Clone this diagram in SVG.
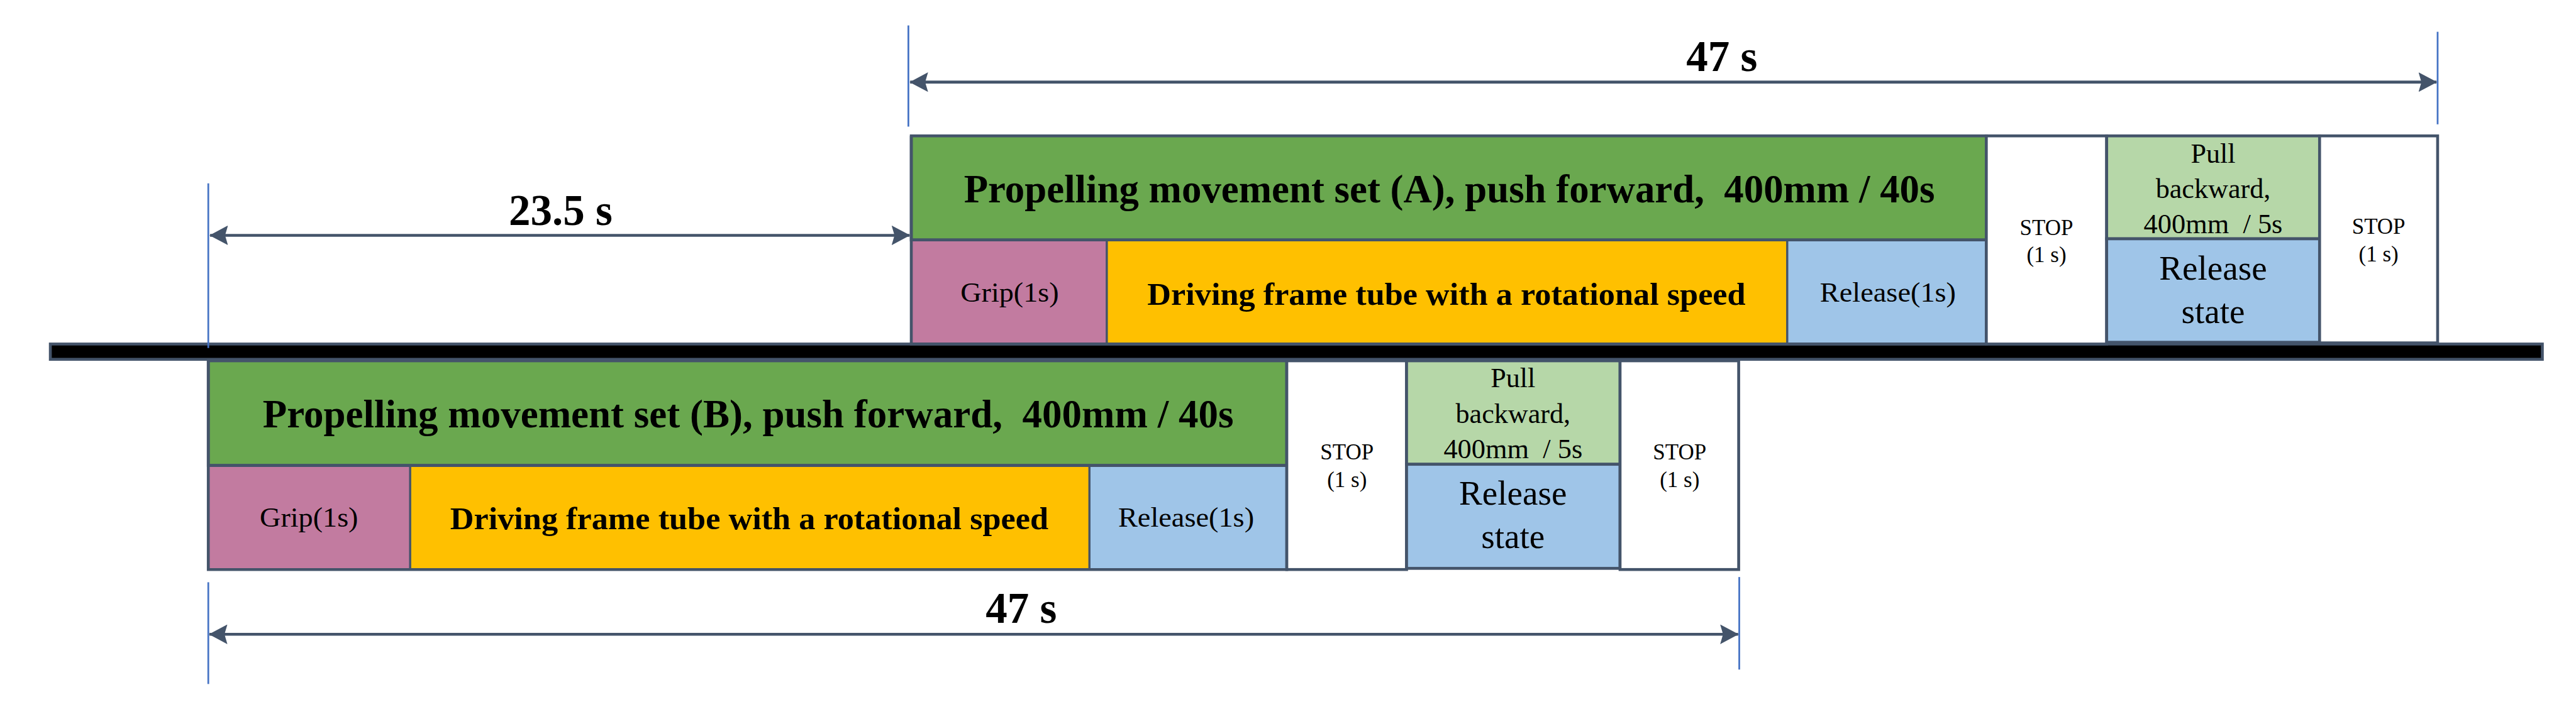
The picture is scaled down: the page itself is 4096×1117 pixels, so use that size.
<svg xmlns="http://www.w3.org/2000/svg" width="4096" height="1117" viewBox="0 0 4096 1117">
<defs>
<style>
.box{stroke:#44546A;stroke-width:5}
.in{stroke:#44546A;stroke-width:3.5}
.green{fill:#6AA84F}.pink{fill:#C27BA0}.yellow{fill:#FFC000}.blue{fill:#9FC5E8}.lgreen{fill:#B6D7A8}.white{fill:#FFFFFF}
text{font-family:"Liberation Serif","Times New Roman",serif;fill:#000;text-anchor:middle;white-space:pre}
.t{font-size:69px;font-weight:bold}
.d{font-size:56px;font-weight:bold}
.s{font-size:47px}
.stop{font-size:38px}
.pull{font-size:48px}
.rel{font-size:60px}
.dim{font-size:75px;font-weight:bold}
.vl{stroke:#4472C4;stroke-width:3}
.ar{stroke:#44546A;stroke-width:5;fill:none;marker-start:url(#ah);marker-end:url(#ah)}
</style>
<marker id="ah" markerUnits="userSpaceOnUse" markerWidth="32" markerHeight="34" refX="31" refY="17" orient="auto-start-reverse">
<path d="M0,0 L32,17 L0,34 L5,17 z" fill="#44546A"/>
</marker>
</defs>
<rect width="4096" height="1117" fill="#FFFFFF"/>
<g transform="scale(0.92)">
<g id="baseline-bar"><rect x="87" y="595" width="4307" height="26.5" fill="#000" stroke="#44546A" stroke-width="5"/></g>

<g id="setA">
<g id="A-title"><rect class="box green" x="1575" y="235" width="1858" height="180"/><text class="t" x="2505" y="350" textLength="1678" lengthAdjust="spacingAndGlyphs" xml:space="preserve">Propelling movement set (A), push forward,  400mm / 40s</text></g>
<g id="A-grip"><rect class="in pink" x="1575" y="415" width="338" height="180"/><text class="s" x="1745" y="522" textLength="170" lengthAdjust="spacingAndGlyphs">Grip(1s)</text></g>
<g id="A-drive"><rect class="in yellow" x="1913" y="415" width="1176" height="180"/><text class="d" x="2500" y="527" textLength="1034" lengthAdjust="spacingAndGlyphs">Driving frame tube with a rotational speed</text></g>
<g id="A-release"><rect class="in blue" x="3089" y="415" width="344" height="180"/><text class="s" x="3263" y="522" textLength="235" lengthAdjust="spacingAndGlyphs">Release(1s)</text></g>
<g id="A-outline"><path d="M1575,415 H3433 M1575,235 V595 H3433 V235" fill="none" stroke="#44546A" stroke-width="5"/></g>
<g id="A-stop1"><rect class="box white" x="3433" y="235" width="208" height="360"/><text class="stop" x="3537" y="406">STOP</text><text class="stop" x="3537" y="453">(1 s)</text></g>
<g id="A-pull"><rect class="box lgreen" x="3641" y="235" width="368" height="178"/><text class="pull" x="3825" y="281">Pull</text><text class="pull" x="3825" y="342">backward,</text><text class="pull" x="3825" y="403" textLength="240" lengthAdjust="spacingAndGlyphs" xml:space="preserve">400mm  / 5s</text></g>
<g id="A-relstate"><rect class="box blue" x="3641" y="413" width="368" height="179"/><text class="rel" x="3825" y="484">Release</text><text class="rel" x="3825" y="559">state</text></g>
<g id="A-stop2"><rect class="box white" x="4009" y="235" width="204" height="358"/><text class="stop" x="4111" y="404">STOP</text><text class="stop" x="4111" y="452">(1 s)</text></g>
</g>

<g id="setB">
<g id="B-title"><rect class="box green" x="360" y="624" width="1864" height="181"/><text class="t" x="1293" y="739" textLength="1678" lengthAdjust="spacingAndGlyphs" xml:space="preserve">Propelling movement set (B), push forward,  400mm / 40s</text></g>
<g id="B-grip"><rect class="in pink" x="360" y="805" width="349" height="180"/><text class="s" x="534" y="911" textLength="170" lengthAdjust="spacingAndGlyphs">Grip(1s)</text></g>
<g id="B-drive"><rect class="in yellow" x="709" y="805" width="1174" height="180"/><text class="d" x="1295" y="915" textLength="1034" lengthAdjust="spacingAndGlyphs">Driving frame tube with a rotational speed</text></g>
<g id="B-release"><rect class="in blue" x="1883" y="805" width="341" height="180"/><text class="s" x="2050" y="911" textLength="235" lengthAdjust="spacingAndGlyphs">Release(1s)</text></g>
<g id="B-outline"><path d="M360,805 H2224 M360,624 V985 H2224 V624" fill="none" stroke="#44546A" stroke-width="5"/></g>
<g id="B-stop1"><rect class="box white" x="2224" y="624" width="207" height="361"/><text class="stop" x="2328" y="795">STOP</text><text class="stop" x="2328" y="842">(1 s)</text></g>
<g id="B-pull"><rect class="box lgreen" x="2431" y="624" width="369" height="179"/><text class="pull" x="2615" y="670">Pull</text><text class="pull" x="2615" y="731">backward,</text><text class="pull" x="2615" y="792" textLength="240" lengthAdjust="spacingAndGlyphs" xml:space="preserve">400mm  / 5s</text></g>
<g id="B-relstate"><rect class="box blue" x="2431" y="803" width="369" height="180"/><text class="rel" x="2615" y="873">Release</text><text class="rel" x="2615" y="948">state</text></g>
<g id="B-stop2"><rect class="box white" x="2800" y="624" width="205" height="361"/><text class="stop" x="2903" y="795">STOP</text><text class="stop" x="2903" y="842">(1 s)</text></g>
</g>

<g id="connectors">
<line class="vl" x1="1570" y1="44" x2="1570" y2="219"/>
<line class="vl" x1="4213" y1="55" x2="4213" y2="215"/>
<line class="ar" x1="1573" y1="142" x2="4211" y2="142"/>
<text class="dim" x="2976" y="123">47 s</text>
<line class="vl" x1="360" y1="317" x2="360" y2="602"/>
<line class="ar" x1="363" y1="407" x2="1572" y2="407"/>
<text class="dim" x="969" y="389">23.5 s</text>
<line class="vl" x1="360" y1="1007" x2="360" y2="1183"/>
<line class="vl" x1="3006" y1="998" x2="3006" y2="1158"/>
<line class="ar" x1="362" y1="1097" x2="3004" y2="1097"/>
<text class="dim" x="1765" y="1077">47 s</text>
</g>
</g>
</svg>
